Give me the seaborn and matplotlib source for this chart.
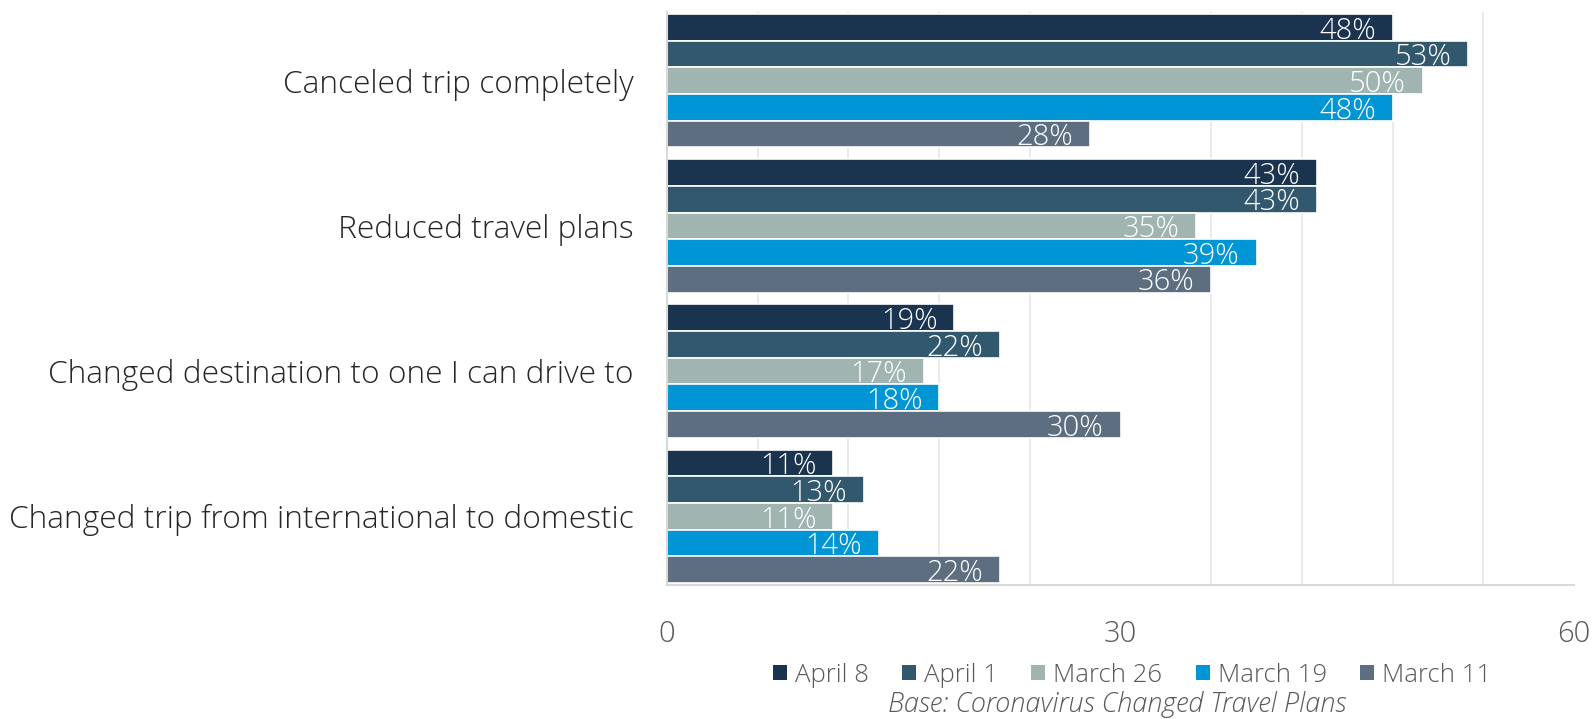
import matplotlib
matplotlib.use("Agg")
import matplotlib.pyplot as plt
import seaborn as sns
import pandas as pd
from matplotlib.patches import Patch

categories = ["Canceled trip completely", "Reduced travel plans",
              "Changed destination to one I can drive to",
              "Changed trip from international to domestic"]
series = ["April 8", "April 1", "March 26", "March 19", "March 11"]
april8 = [48, 43, 19, 11]
april1 = [53, 43, 22, 13]
march26 = [50, 35, 17, 11]
march19 = [48, 39, 18, 14]
march11 = [28, 36, 30, 22]
colors = ["#1A334F", "#32586D", "#A0B5B0", "#0096D6", "#5D6E80"]
xticks = [0, 30, 60]

values = [april8, april1, march26, march19, march11]
rows = []
for s, vals in zip(series, values):
    for c, v in zip(categories, vals):
        rows.append({"cat": c, "series": s, "val": v})
df = pd.DataFrame(rows)

sns.set_style("white")
plt.rcParams['font.family'] = ['Open Sans', 'DejaVu Sans']
plt.rcParams['font.weight'] = 'light'

fig = plt.figure(figsize=(15.96, 7.19), dpi=100)
ax = fig.add_axes([667/1596, 1 - 585/719, (1574-667)/1596, (585-12)/719])

sns.barplot(data=df, y="cat", x="val", hue="series", order=categories,
            hue_order=series, palette=colors, orient="h", width=0.918,
            edgecolor="white", linewidth=1.2, ax=ax, legend=False, saturation=1)

for cont in ax.containers:
    texts = ax.bar_label(cont, labels=[f"{int(v)}%" for v in cont.datavalues],
                         label_type="edge", padding=-12, color="white", fontsize=21)
    for t in texts:
        t.set_ha("right")
        t.set_va("center_baseline")

ax.set_xlim(0, 60)
ax.set_ylim(3.473, -0.473)
ax.set_xticks(xticks)
ax.set_xticks(range(0, 61, 6), minor=True)
ax.grid(axis="x", which="minor", color="#E6E6E6", linewidth=1.2)
ax.set_axisbelow(True)
ax.tick_params(axis="x", which="both", length=0, pad=25, labelsize=21, labelcolor="#595959")
ax.tick_params(axis="y", length=0, pad=24, labelsize=22.8, labelcolor="#262626")
ax.set_xlabel("")
ax.set_ylabel("")
for sp in ["top", "right"]:
    ax.spines[sp].set_visible(False)
ax.spines["left"].set_color("#D9D9D9")
ax.spines["left"].set_linewidth(1.5)
ax.spines["bottom"].set_color("#D9D9D9")
ax.spines["bottom"].set_linewidth(1.5)

handles = [Patch(facecolor=c, edgecolor="none") for c in colors]
fig.legend(handles, series, loc="center", bbox_to_anchor=(1132/1596, 1 - 675/719),
           ncol=5, frameon=False, fontsize=18.5, handlelength=0.55, handleheight=0.55,
           handletextpad=0.3, columnspacing=1.3, labelcolor="#595959")

fig.text(1117/1596, 1 - 705/719, "Base: Coronavirus Changed Travel Plans",
         ha="center", va="center", fontsize=19.5, style="italic", color="#595959")

fig.savefig("out.png", dpi=100)
